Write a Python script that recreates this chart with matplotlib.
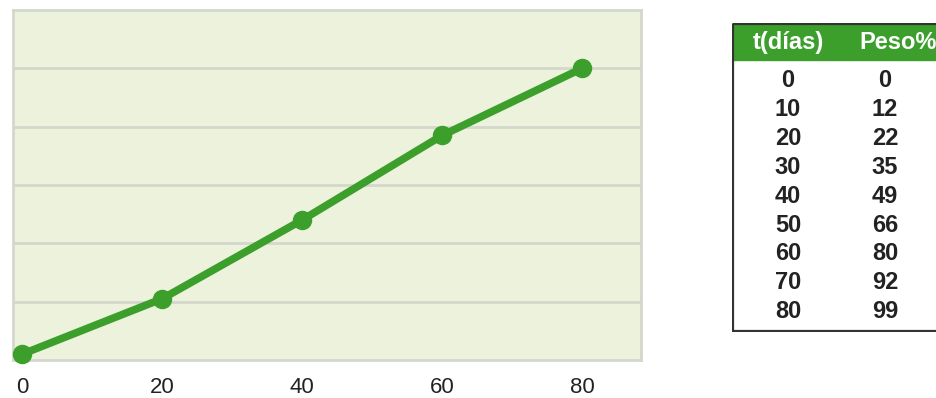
import matplotlib
matplotlib.use('Agg')
import matplotlib.pyplot as plt
from matplotlib import font_manager
from matplotlib.patches import Rectangle

# Datos
dias = [0, 20, 40, 60, 80]
peso_graf = [2, 21, 48, 77, 100]
xticks = [0, 20, 40, 60, 80]
yticks = [20, 40, 60, 80, 100]

# Datos de la tabla
tabla_t = [0, 10, 20, 30, 40, 50, 60, 70, 80]
tabla_peso = [0, 12, 22, 35, 49, 66, 80, 92, 99]
cabecera = ['t(días)', 'Peso%']

verde = '#3c9f2c'
fondo = '#edf2dc'
rejilla = '#d4d8cc'

# Fuente estrecha para la tabla si existe
nombres = {f.name for f in font_manager.fontManager.ttflist}
if 'Liberation Sans Narrow' in nombres:
    fuente_tabla = 'Liberation Sans Narrow'
    tam_tabla = 21
else:
    fuente_tabla = 'Liberation Sans'
    tam_tabla = 17

fig = plt.figure(figsize=(9.37, 3.98), dpi=100)

# Grafico
ax = fig.add_axes([13/937, 38/398, 628/937, 350/398])
ax.set_facecolor(fondo)
ax.plot(dias, peso_graf, color=verde, lw=5.5, marker='o', markersize=13,
        solid_capstyle='round', zorder=3, clip_on=False)
ax.set_xlim(-1.3, 88.4)
ax.set_ylim(0, 120)
ax.set_yticks(yticks)
ax.set_yticklabels([])
ax.set_xticks(xticks)
ax.set_xticklabels([str(v) for v in xticks], family='Liberation Sans',
                   fontsize=16, color='#222222')
ax.tick_params(axis='both', length=0)
ax.tick_params(axis='x', pad=12)
ax.grid(axis='y', color=rejilla, lw=2)
ax.grid(axis='x', visible=False)
for s in ax.spines.values():
    s.set_color(rejilla)
    s.set_linewidth(2)

# Tabla
tx = fig.add_axes([732/937, 66/398, 215/937, 309/398])
tx.set_xlim(0, 215)
tx.set_ylim(309, 0)
tx.axis('off')
tx.add_patch(Rectangle((0, 0), 215, 37, color=verde, zorder=1))
tx.add_patch(Rectangle((1, 1), 213, 307, fill=False, edgecolor='#333333',
                       lw=1.6, zorder=2))
tx.text(56, 19, cabecera[0], ha='center', va='center', color='white',
        fontsize=tam_tabla, fontweight='bold',
        family=[fuente_tabla, 'Liberation Sans'])
tx.text(166, 19, cabecera[1], ha='center', va='center', color='white',
        fontsize=tam_tabla, fontweight='bold',
        family=[fuente_tabla, 'Liberation Sans'])
for i, (t, p) in enumerate(zip(tabla_t, tabla_peso)):
    y = 57.5 + i * 28.9
    tx.text(56, y, str(t), ha='center', va='center', color='#222222',
            fontsize=tam_tabla, fontweight='bold',
            family=[fuente_tabla, 'Liberation Sans'])
    tx.text(153, y, str(p), ha='center', va='center', color='#222222',
            fontsize=tam_tabla, fontweight='bold',
            family=[fuente_tabla, 'Liberation Sans'])

fig.savefig('out.png', dpi=100)
